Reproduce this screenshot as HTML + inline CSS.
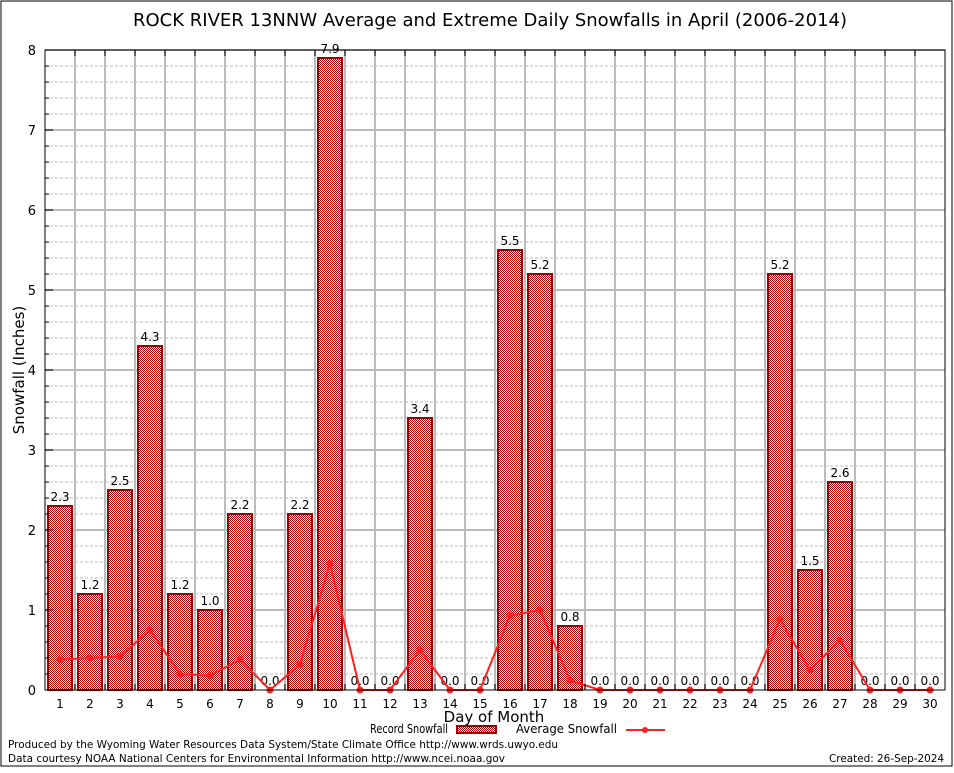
<!DOCTYPE html>
<html><head><meta charset="utf-8"><style>
html,body{margin:0;padding:0;background:#fff;}
svg text{font-family:"DejaVu Sans","Liberation Sans",sans-serif;}
</style></head><body>
<svg id="chart" width="954" height="768" viewBox="0 0 954 768" xmlns="http://www.w3.org/2000/svg">
<defs>
<pattern id="hatch" x="0" y="0" width="2" height="2" patternUnits="userSpaceOnUse">
<rect width="2" height="2" fill="#fff" shape-rendering="crispEdges"/><rect width="1" height="1" fill="#a80000" shape-rendering="crispEdges"/><rect x="1" y="1" width="1" height="1" fill="#a80000" shape-rendering="crispEdges"/>
</pattern>
</defs>
<rect x="1" y="1" width="951" height="765" fill="#fff" stroke="#000" stroke-width="1"/>
<text x="490" y="26" font-size="18" text-anchor="middle">ROCK RIVER 13NNW Average and Extreme Daily Snowfalls in April (2006-2014)</text>
<g id="grid"></g>
<g id="bars"></g>
<g id="avg"></g>
<g id="axes"></g>
<text x="24" y="370" font-size="15" text-anchor="middle" transform="rotate(-90 24 370)">Snowfall (Inches)</text>
<text x="494" y="722" font-size="15" text-anchor="middle">Day of Month</text>
<g>
<text x="448" y="733" font-size="12" text-anchor="end" textLength="78" lengthAdjust="spacingAndGlyphs">Record Snowfall</text>
<rect x="457" y="726" width="39" height="7" fill="url(#hatch)" stroke="#a00000" stroke-width="2"/>
<text x="617" y="733" font-size="12" text-anchor="end" textLength="101" lengthAdjust="spacingAndGlyphs">Average Snowfall</text>
<line x1="626" y1="730" x2="665" y2="730" stroke="#ff2020" stroke-width="2"/>
<circle cx="645" cy="730" r="3" fill="#ff2020"/>
</g>
<text x="8" y="748" font-size="11" textLength="550" lengthAdjust="spacingAndGlyphs">Produced by the Wyoming Water Resources Data System/State Climate Office http://www.wrds.uwyo.edu</text>
<text x="8" y="762" font-size="11" textLength="497" lengthAdjust="spacingAndGlyphs">Data courtesy NOAA National Centers for Environmental Information http://www.ncei.noaa.gov</text>
<text x="944" y="762" font-size="11" text-anchor="end" textLength="115" lengthAdjust="spacingAndGlyphs">Created: 26-Sep-2024</text>
</svg>
<script>
const days = [1,2,3,4,5,6,7,8,9,10,11,12,13,14,15,16,17,18,19,20,21,22,23,24,25,26,27,28,29,30];
const recordValues = [2.3,1.2,2.5,4.3,1.2,1.0,2.2,0.0,2.2,7.9,0.0,0.0,3.4,0.0,0.0,5.5,5.2,0.8,0.0,0.0,0.0,0.0,0.0,0.0,5.2,1.5,2.6,0.0,0.0,0.0];
const averageValues = [0.38,0.4,0.42,0.75,0.2,0.18,0.38,0,0.32,1.58,0,0,0.5,0,0,0.93,1.0,0.12,0,0,0,0,0,0,0.88,0.25,0.62,0,0,0];
const yTicks = [0,1,2,3,4,5,6,7,8];

const NS = 'http://www.w3.org/2000/svg';
const X0 = 45, X1 = 945, Y0 = 690, Y1 = 50, yMax = 8;
const slot = (X1 - X0) / days.length;
function xScale(d){ return X0 + (d - 0.5) * slot; }
function yScale(v){ return Y0 - v / yMax * (Y0 - Y1); }
function mk(tag, attrs, parent){ const e = document.createElementNS(NS, tag); for (const k in attrs) e.setAttribute(k, attrs[k]); parent.appendChild(e); return e; }

const grid = document.getElementById('grid');
for (let v = 0.2; v < yMax; v += 0.2) {
  if (Math.abs(v - Math.round(v)) < 0.01) continue;
  const l = mk('line', {x1:X0, x2:X1, y1:yScale(v), y2:yScale(v), stroke:'#bbb', 'stroke-width':1, 'stroke-dasharray':'3,2'}, grid);
  
  
}
yTicks.forEach(t => {
  if (t === 0) return;
  const l = mk('line', {x1:X0, x2:X1, y1:yScale(t), y2:yScale(t), stroke:'#bbb', 'stroke-width':2}, grid);
  
  
});
for (let i = 1; i < days.length; i++) {
  const x = X0 + i * slot;
  const l = mk('line', {x1:x, x2:x, y1:Y1, y2:Y0, stroke:'#bbb', 'stroke-width':2}, grid);
  
  
}

const bars = document.getElementById('bars');
days.forEach((d, i) => {
  const v = recordValues[i];
  const x = xScale(d);
  if (v > 0) {
    const top = Math.round(yScale(v));
    const r = mk('rect', {x:Math.round(x - 12), y:top, width:24, height:Y0 - top, fill:'url(#hatch)', stroke:'#a00000', 'stroke-width':2, 'shape-rendering':'crispEdges'}, bars);
    
    
  }
  const t = mk('text', {x:x, y:yScale(v) - 5, 'font-size':12, 'text-anchor':'middle'}, bars);
  t.textContent = v.toFixed(1);
  
  
});

const avg = document.getElementById('avg');
const pts = days.map((d, i) => xScale(d) + ',' + yScale(averageValues[i])).join(' ');
const pl = mk('polyline', {points:pts, fill:'none', stroke:'#ff2020', 'stroke-width':2}, avg);


days.forEach((d, i) => {
  const c = mk('circle', {cx:xScale(d), cy:yScale(averageValues[i]), r:3.5, fill:'#ff2020'}, avg);
  
  
});

const axes = document.getElementById('axes');
const fr = mk('rect', {x:X0, y:Y1, width:X1 - X0, height:Y0 - Y1, fill:'none', stroke:'#000', 'stroke-width':1}, axes);


for (let v = 0.2; v < yMax; v += 0.2) {
  const major = Math.abs(v - Math.round(v)) < 0.01;
  const tk = mk('line', {x1:X0, x2:X0 + (major ? 8 : 4), y1:yScale(v), y2:yScale(v), stroke:'#000'}, axes);
  
  
}
yTicks.forEach(t => {
  const tx = mk('text', {x:36, y:yScale(t) + 5, 'font-size':13, 'text-anchor':'end', 'font-family':'Liberation Serif, serif'}, axes);
  tx.textContent = t;
  
  
});
for (let i = 1; i < days.length; i++) {
  const x = X0 + i * slot;
  const tk = mk('line', {x1:x, x2:x, y1:Y1, y2:Y1 + 6, stroke:'#000'}, axes);
  
  
  const tb = mk('line', {x1:x, x2:x, y1:Y0, y2:Y0 - 6, stroke:'#000'}, axes);
  
  
}
days.forEach(d => {
  const tx = mk('text', {x:xScale(d), y:708, 'font-size':12, 'text-anchor':'middle', 'font-family':'Liberation Serif, serif'}, axes);
  tx.textContent = d;
  
  
});
</script>
</body></html>
